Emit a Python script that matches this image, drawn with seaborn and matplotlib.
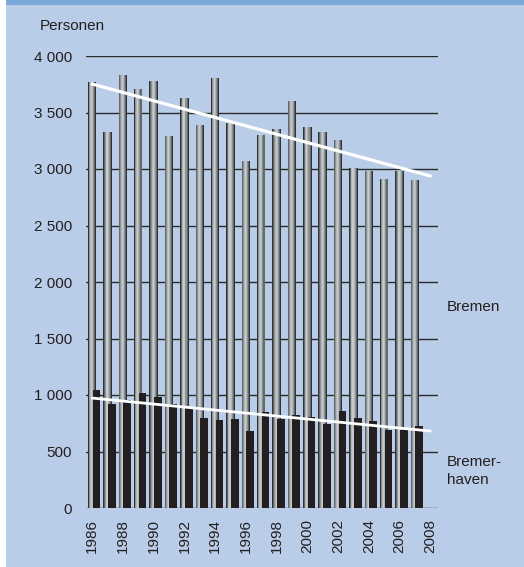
import numpy as np
import pandas as pd
import matplotlib
matplotlib.use("Agg")
import matplotlib.pyplot as plt
from matplotlib.patches import Rectangle
import seaborn as sns

# ---- data ----
years = list(range(1986, 2008))
bremen = [3767, 3327, 3832, 3708, 3779, 3292, 3628, 3389, 3805, 3407, 3071,
          3301, 3354, 3602, 3372, 3327, 3257, 3009, 2982, 2912, 2982, 2903]
bremerhaven = [1044, 920, 956, 1018, 982, 920, 885, 799, 778, 790, 681,
               850, 788, 823, 805, 743, 858, 796, 773, 693, 693, 726]
trend_years = [1986, 2008]
bremen_trend = [3752, 2938]
bremerhaven_trend = [973, 681]
x_ticks = list(range(1986, 2009, 2))
y_ticks = [0, 500, 1000, 1500, 2000, 2500, 3000, 3500, 4000]

sns.set_style("white")
plt.rcParams['font.family'] = ['Liberation Sans', 'DejaVu Sans']

BG = "#b9cde9"
TOP = "#7ca7d9"
TXT = "#231f20"

fig = plt.figure(figsize=(5.24, 5.67), dpi=100, facecolor="white")
fig.patches.append(Rectangle((6 / 524, 0), 1, 1, transform=fig.transFigure,
                             facecolor=BG, edgecolor="none", zorder=-10))
fig.patches.append(Rectangle((6 / 524, 1 - 5 / 567), 1, 5 / 567, transform=fig.transFigure,
                             facecolor=TOP, edgecolor="none", zorder=-9))

ax = fig.add_axes([86 / 524, 1 - 508 / 567, (438 - 86) / 524, (508 - 56) / 567])
ax.set_facecolor("none")

df = pd.DataFrame({"year": years, "Bremen": bremen, "Bremerhaven": bremerhaven})
df["year_bh"] = df["year"] + 0.28

# gray cylinder-like bars (layers from dark edge to light centre)
layers = [(0.55, "#2f3234", 0.0), (0.45, "#63686b", -0.01), (0.33, "#8d9295", -0.02),
          (0.2, "#b1b6b8", -0.03), (0.08, "#c6cacc", -0.03)]
for w, c, off in layers:
    sns.barplot(data=df.assign(xx=df["year"] + off), x="xx", y="Bremen",
                native_scale=True, width=w, color=c, saturation=1,
                errorbar=None, linewidth=0, ax=ax, zorder=2)

sns.barplot(data=df, x="year_bh", y="Bremerhaven", native_scale=True, width=0.5,
            color=TXT, saturation=1, errorbar=None, linewidth=0, ax=ax, zorder=3)

tr = pd.DataFrame({"year": trend_years, "b": bremen_trend, "bh": bremerhaven_trend})
sns.lineplot(data=tr, x="year", y="b", color="white", linewidth=2.3, ax=ax, zorder=5)
sns.lineplot(data=tr, x="year", y="bh", color="white", linewidth=2.0, ax=ax, zorder=5)

ax.set_xlim(1985.6, 2008.5)
ax.set_ylim(0, 4000)
ax.set_yticks(y_ticks)
ax.set_yticklabels([f"{v:,}".replace(",", " ") for v in y_ticks])
ax.set_xticks(x_ticks)
ax.set_xticklabels([str(v) for v in x_ticks], rotation=90)
ax.set_xlabel("")
ax.set_ylabel("")
for s in ax.spines.values():
    s.set_visible(False)
ax.set_axisbelow(True)
ax.yaxis.grid(True, color="#2b2b2b", linewidth=1.0, zorder=0)
ax.xaxis.grid(False)
ax.tick_params(axis="y", length=0, pad=10, labelsize=11, labelcolor=TXT)
ax.tick_params(axis="x", length=0, pad=8, labelsize=11, labelcolor=TXT)

fig.text(40 / 524, 1 - 26 / 567, "Personen", fontsize=11, color=TXT, va="center", ha="left")
fig.text(447 / 524, 1 - 307 / 567, "Bremen", fontsize=11, color=TXT, va="center", ha="left")
fig.text(447 / 524, 1 - 471 / 567, "Bremer-\nhaven", fontsize=11, color=TXT, va="center",
         ha="left", linespacing=1.45)

fig.savefig("out.png", dpi=100, facecolor="white")
